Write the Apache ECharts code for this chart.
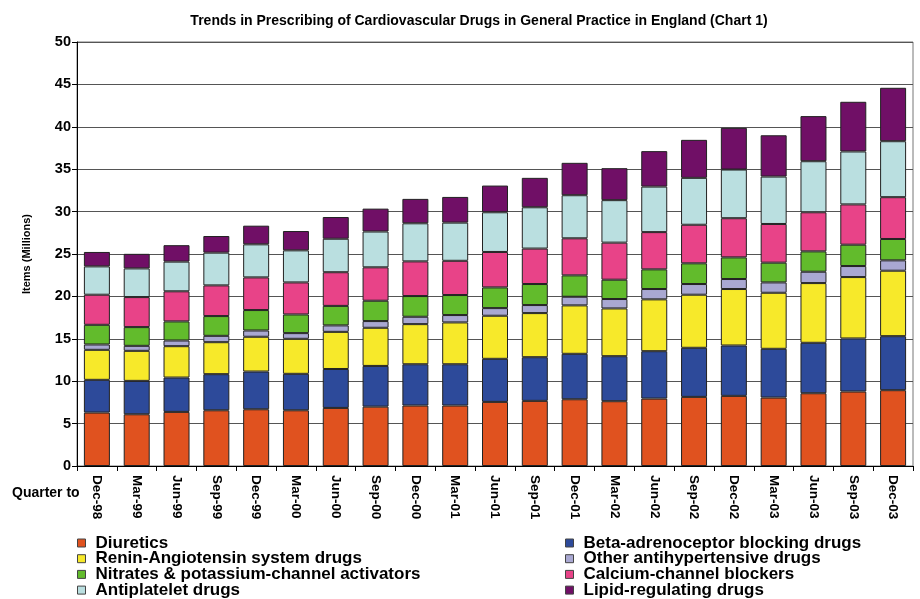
<!DOCTYPE html>
<html>
<head>
<meta charset="utf-8">
<script src="https://cdn.jsdelivr.net/npm/echarts@6/dist/echarts.min.js"></script>
<style>
  html, body { margin: 0; padding: 0; background: #fff; }
  #chart1 { width: 920px; height: 599px; }
</style>
</head>
<body>
<div id="chart1"></div>
<script>
var quarters = ['Dec-98', 'Mar-99', 'Jun-99', 'Sep-99', 'Dec-99', 'Mar-00', 'Jun-00', 'Sep-00', 'Dec-00', 'Mar-01', 'Jun-01',
    'Sep-01', 'Dec-01', 'Mar-02', 'Jun-02', 'Sep-02', 'Dec-02', 'Mar-03', 'Jun-03', 'Sep-03', 'Dec-03'];

// items, millions
var diuretics = [6.30, 6.10, 6.38, 6.57, 6.69, 6.57, 6.85, 7.00, 7.13, 7.13, 7.56, 7.68, 7.87, 7.64, 7.95, 8.15, 8.27, 8.07, 8.58, 8.78, 8.94];
var betaBlockers = [3.86, 3.94, 4.05, 4.26, 4.45, 4.30, 4.59, 4.80, 4.87, 4.87, 5.08, 5.15, 5.36, 5.31, 5.59, 5.79, 5.94, 5.75, 5.95, 6.26, 6.37];
var reninAngiotensin = [3.54, 3.54, 3.70, 3.77, 4.10, 4.13, 4.38, 4.50, 4.73, 4.93, 5.08, 5.20, 5.71, 5.63, 6.11, 6.26, 6.66, 6.61, 7.04, 7.24, 7.72];
var otherAntihyp = [0.63, 0.59, 0.67, 0.75, 0.74, 0.67, 0.76, 0.79, 0.87, 0.87, 0.90, 0.95, 1.02, 1.11, 1.22, 1.26, 1.18, 1.22, 1.34, 1.30, 1.22];
var nitrates = [2.32, 2.21, 2.25, 2.33, 2.41, 2.20, 2.30, 2.40, 2.44, 2.36, 2.44, 2.48, 2.52, 2.28, 2.32, 2.44, 2.55, 2.33, 2.40, 2.52, 2.52];
var calciumBlockers = [3.55, 3.54, 3.55, 3.62, 3.85, 3.78, 3.97, 3.94, 4.09, 4.04, 4.18, 4.18, 4.37, 4.37, 4.39, 4.55, 4.62, 4.56, 4.61, 4.75, 4.93];
var antiplatelet = [3.34, 3.38, 3.50, 3.86, 3.90, 3.78, 3.95, 4.22, 4.49, 4.50, 4.68, 4.87, 5.08, 5.01, 5.37, 5.53, 5.74, 5.59, 6.02, 6.24, 6.60];
var lipidRegulating = [1.70, 1.72, 1.94, 1.96, 2.20, 2.28, 2.56, 2.70, 2.88, 3.03, 3.15, 3.47, 3.82, 3.77, 4.18, 4.48, 4.92, 4.87, 5.32, 5.86, 6.30];

var yTicks = [0, 5, 10, 15, 20, 25, 30, 35, 40, 45, 50];

var seriesNames = ['Diuretics', 'Beta-adrenoceptor blocking drugs', 'Renin-Angiotensin system drugs', 'Other antihypertensive drugs',
    'Nitrates & potassium-channel activators', 'Calcium-channel blockers', 'Antiplatelet drugs', 'Lipid-regulating drugs'];
var seriesData = [diuretics, betaBlockers, reninAngiotensin, otherAntihyp, nitrates, calciumBlockers, antiplatelet, lipidRegulating];
var colors = ['#e0521f', '#2d4a9a', '#f7e92a', '#a9a8d2', '#62bb2c', '#e84388', '#badfe0', '#700f66'];

var font = 'Arial, "Liberation Sans", sans-serif';

var chart1 = echarts.init(document.getElementById('chart1'));

var legendCommon = {
    orient: 'vertical',
    top: 534.5,
    height: 90,
    padding: 0,
    itemWidth: 8,
    itemHeight: 8,
    itemGap: -1.3,
    icon: 'rect',
    selectedMode: false,
    itemStyle: { borderColor: '#444', borderWidth: 1 },
    textStyle: {
        fontFamily: font,
        fontSize: 17,
        fontWeight: 'bold',
        color: '#000',
        padding: [0, 0, 0, 5]
    }
};

var option = {
    backgroundColor: '#fff',
    animation: false,
    color: colors,
    title: {
        text: 'Trends in Prescribing of Cardiovascular Drugs in General Practice in England (Chart 1)',
        left: 474,
        top: 9,
        textAlign: 'center',
        textStyle: { fontFamily: font, fontSize: 14, fontWeight: 'bold', color: '#000' }
    },
    legend: [
        Object.assign({}, legendCommon, { left: 77, data: [seriesNames[0], seriesNames[2], seriesNames[4], seriesNames[6]] }),
        Object.assign({}, legendCommon, { left: 565, data: [seriesNames[1], seriesNames[3], seriesNames[5], seriesNames[7]] })
    ],
    grid: {
        left: 77,
        right: 7,
        top: 42,
        bottom: 133,
        show: true,
        borderColor: '#777',
        borderWidth: 1,
        backgroundColor: 'transparent'
    },
    xAxis: {
        type: 'category',
        data: quarters,
        axisLine: { lineStyle: { color: '#000', width: 1 } },
        axisTick: { show: true, length: 5, lineStyle: { color: '#000' } },
        axisLabel: {
            rotate: -90,
            margin: 9,
            fontFamily: font,
            fontSize: 13.5,
            fontWeight: 'bold',
            color: '#000'
        }
    },
    yAxis: {
        type: 'value',
        name: 'Items (Millions)',
        nameLocation: 'middle',
        nameGap: 45,
        nameRotate: 90,
        nameTextStyle: { fontFamily: font, fontSize: 11, fontWeight: 'bold', color: '#000' },
        min: yTicks[0],
        max: yTicks[yTicks.length - 1],
        interval: yTicks[1] - yTicks[0],
        axisLine: { show: true, lineStyle: { color: '#000' } },
        axisTick: { show: true, length: 5, lineStyle: { color: '#000' } },
        axisLabel: { margin: 6, fontFamily: font, fontSize: 14.5, fontWeight: 'bold', color: '#000' },
        splitLine: { show: true, lineStyle: { color: '#555', width: 1 } }
    },
    graphic: [
        {
            type: 'text',
            left: 12,
            top: 486,
            style: { text: 'Quarter to', font: 'bold 14px ' + font, fill: '#000' }
        }
    ],
    series: seriesNames.map(function (name, i) {
        return {
            name: name,
            type: 'bar',
            stack: 'items',
            barWidth: 26,
            data: seriesData[i],
            itemStyle: { color: colors[i], borderColor: '#222', borderWidth: 1 }
        };
    })
};

chart1.setOption(option);
</script>
</body>
</html>
